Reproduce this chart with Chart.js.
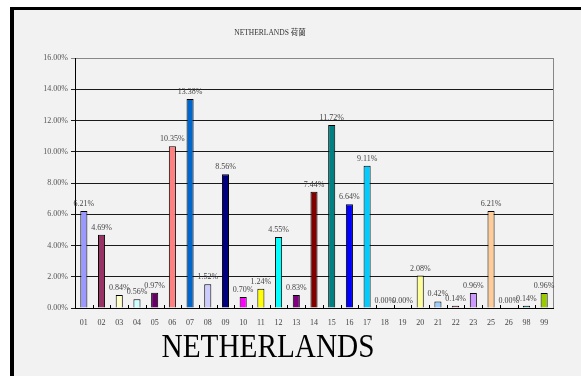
<!DOCTYPE html>
<html><head><meta charset="utf-8">
<script src="https://cdn.jsdelivr.net/npm/chart.js@4"></script>
<style>html,body{margin:0;padding:0;background:#fff}canvas{display:block}</style>
</head>
<body>
<canvas id="c" width="581" height="376" style="width:581px;height:376px"></canvas>
<script>
const categories = ['01','02','03','04','05','06','07','08','09','10','11','12','13','14','15','16','17','18','19','20','21','22','23','25','26','98','99'];
const values = [6.21,4.69,0.84,0.56,0.97,10.35,13.38,1.52,8.56,0.70,1.24,4.55,0.83,7.44,11.72,6.64,9.11,0.00,0.00,2.08,0.42,0.14,0.96,6.21,0.00,0.14,0.96];
const barColors = ['#9999ff','#993366','#ffffcc','#ccffff','#660066','#ff8080','#0066cc','#ccccff','#000080','#ff00ff','#ffff00','#00ffff','#800080','#800000','#008080','#0000ff','#00ccff','#ccffff','#ccffcc','#ffff99','#99ccff','#ff99cc','#cc99ff','#ffcc99','#3366ff','#33cccc','#99cc00'];
const yMin = 0, yMax = 16, yStep = 2;
const chartTitle = 'NETHERLANDS 荷蘭';
const footerTitle = 'NETHERLANDS';

const SERIF = '"Liberation Serif", "DejaVu Serif", "Noto Sans CJK TC", serif';

const framePlugin = {
  id: 'frame',
  beforeDraw(chart) {
    const ctx = chart.ctx;
    ctx.save();
    ctx.fillStyle = '#ffffff';
    ctx.fillRect(0, 0, chart.width, chart.height);
    ctx.fillStyle = '#f2f2f2';
    ctx.fillRect(14, 10, chart.width - 14, chart.height - 10);
    ctx.fillStyle = '#000000';
    ctx.fillRect(10, 7, chart.width - 10, 3);
    ctx.fillRect(10, 7, 4, chart.height - 7);
    // title
    ctx.fillStyle = '#333333';
    ctx.font = '7.5px ' + SERIF;
    ctx.textAlign = 'center';
    ctx.textBaseline = 'middle';
    ctx.fillText(chartTitle, 270, 33);
    // footer
    ctx.translate(268, 357);
    ctx.scale(0.86, 1);
    ctx.fillStyle = '#000000';
    ctx.font = '34px ' + SERIF;
    ctx.textAlign = 'center';
    ctx.textBaseline = 'alphabetic';
    ctx.fillText(footerTitle, 0, 0);
    ctx.restore();
  },
  afterDatasetsDraw(chart) {
    const ctx = chart.ctx;
    const area = chart.chartArea;
    const xs = chart.scales.x;
    ctx.save();
    // right border of plot
    ctx.strokeStyle = '#888888';
    ctx.lineWidth = 1;
    ctx.beginPath();
    ctx.moveTo(Math.round(area.right) + 0.5, area.top);
    ctx.lineTo(Math.round(area.right) + 0.5, area.bottom);
    ctx.stroke();
    // inner x tick marks
    ctx.strokeStyle = '#000000';
    const n = categories.length;
    const w = (area.right - area.left) / n;
    ctx.beginPath();
    for (let i = 1; i < n; i++) {
      const x = Math.round(area.left + i * w) + 0.5;
      ctx.moveTo(x, area.bottom);
      ctx.lineTo(x, area.bottom - 3);
    }
    ctx.stroke();
    // value labels
    const meta = chart.getDatasetMeta(0);
    ctx.fillStyle = '#444444';
    ctx.font = '8px ' + SERIF;
    ctx.textAlign = 'center';
    ctx.textBaseline = 'alphabetic';
    meta.data.forEach((bar, i) => {
      ctx.fillText(values[i].toFixed(2) + '%', bar.x, bar.y - 5);
    });
    ctx.restore();
  }
};

new Chart(document.getElementById('c'), {
  type: 'bar',
  data: {
    labels: categories,
    datasets: [{
      data: values,
      backgroundColor: barColors,
      borderColor: '#000000',
      borderWidth: 1,
      barPercentage: 0.4,
      categoryPercentage: 1.0
    }]
  },
  options: {
    responsive: false,
    animation: false,
    devicePixelRatio: 1,
    layout: { padding: { left: 0, top: 58, right: 28, bottom: 46 } },
    plugins: { legend: { display: false }, tooltip: { enabled: false }, title: { display: false } },
    scales: {
      x: {
        afterFit(s) { s.height = 22; },
        grid: { display: true, drawOnChartArea: false, drawTicks: false, offset: true },
        border: { display: true, color: '#000000', width: 1 },
        ticks: { color: '#444444', font: { family: SERIF, size: 8 }, padding: 10, maxRotation: 0, autoSkip: false }
      },
      y: {
        min: yMin, max: yMax,
        afterFit(s) { s.width = 75; },
        grid: {
          color: (c) => (c.tick && c.tick.value === yMax) ? '#888888' : '#1a1a1a',
          lineWidth: 1,
          tickLength: 4,
          drawTicks: true
        },
        border: { display: true, color: '#000000', width: 1 },
        ticks: {
          stepSize: yStep,
          color: '#555555',
          font: { family: SERIF, size: 8 },
          padding: 3,
          callback: (v) => v.toFixed(2) + '%'
        }
      }
    }
  },
  plugins: [framePlugin]
});
</script>
</body></html>
